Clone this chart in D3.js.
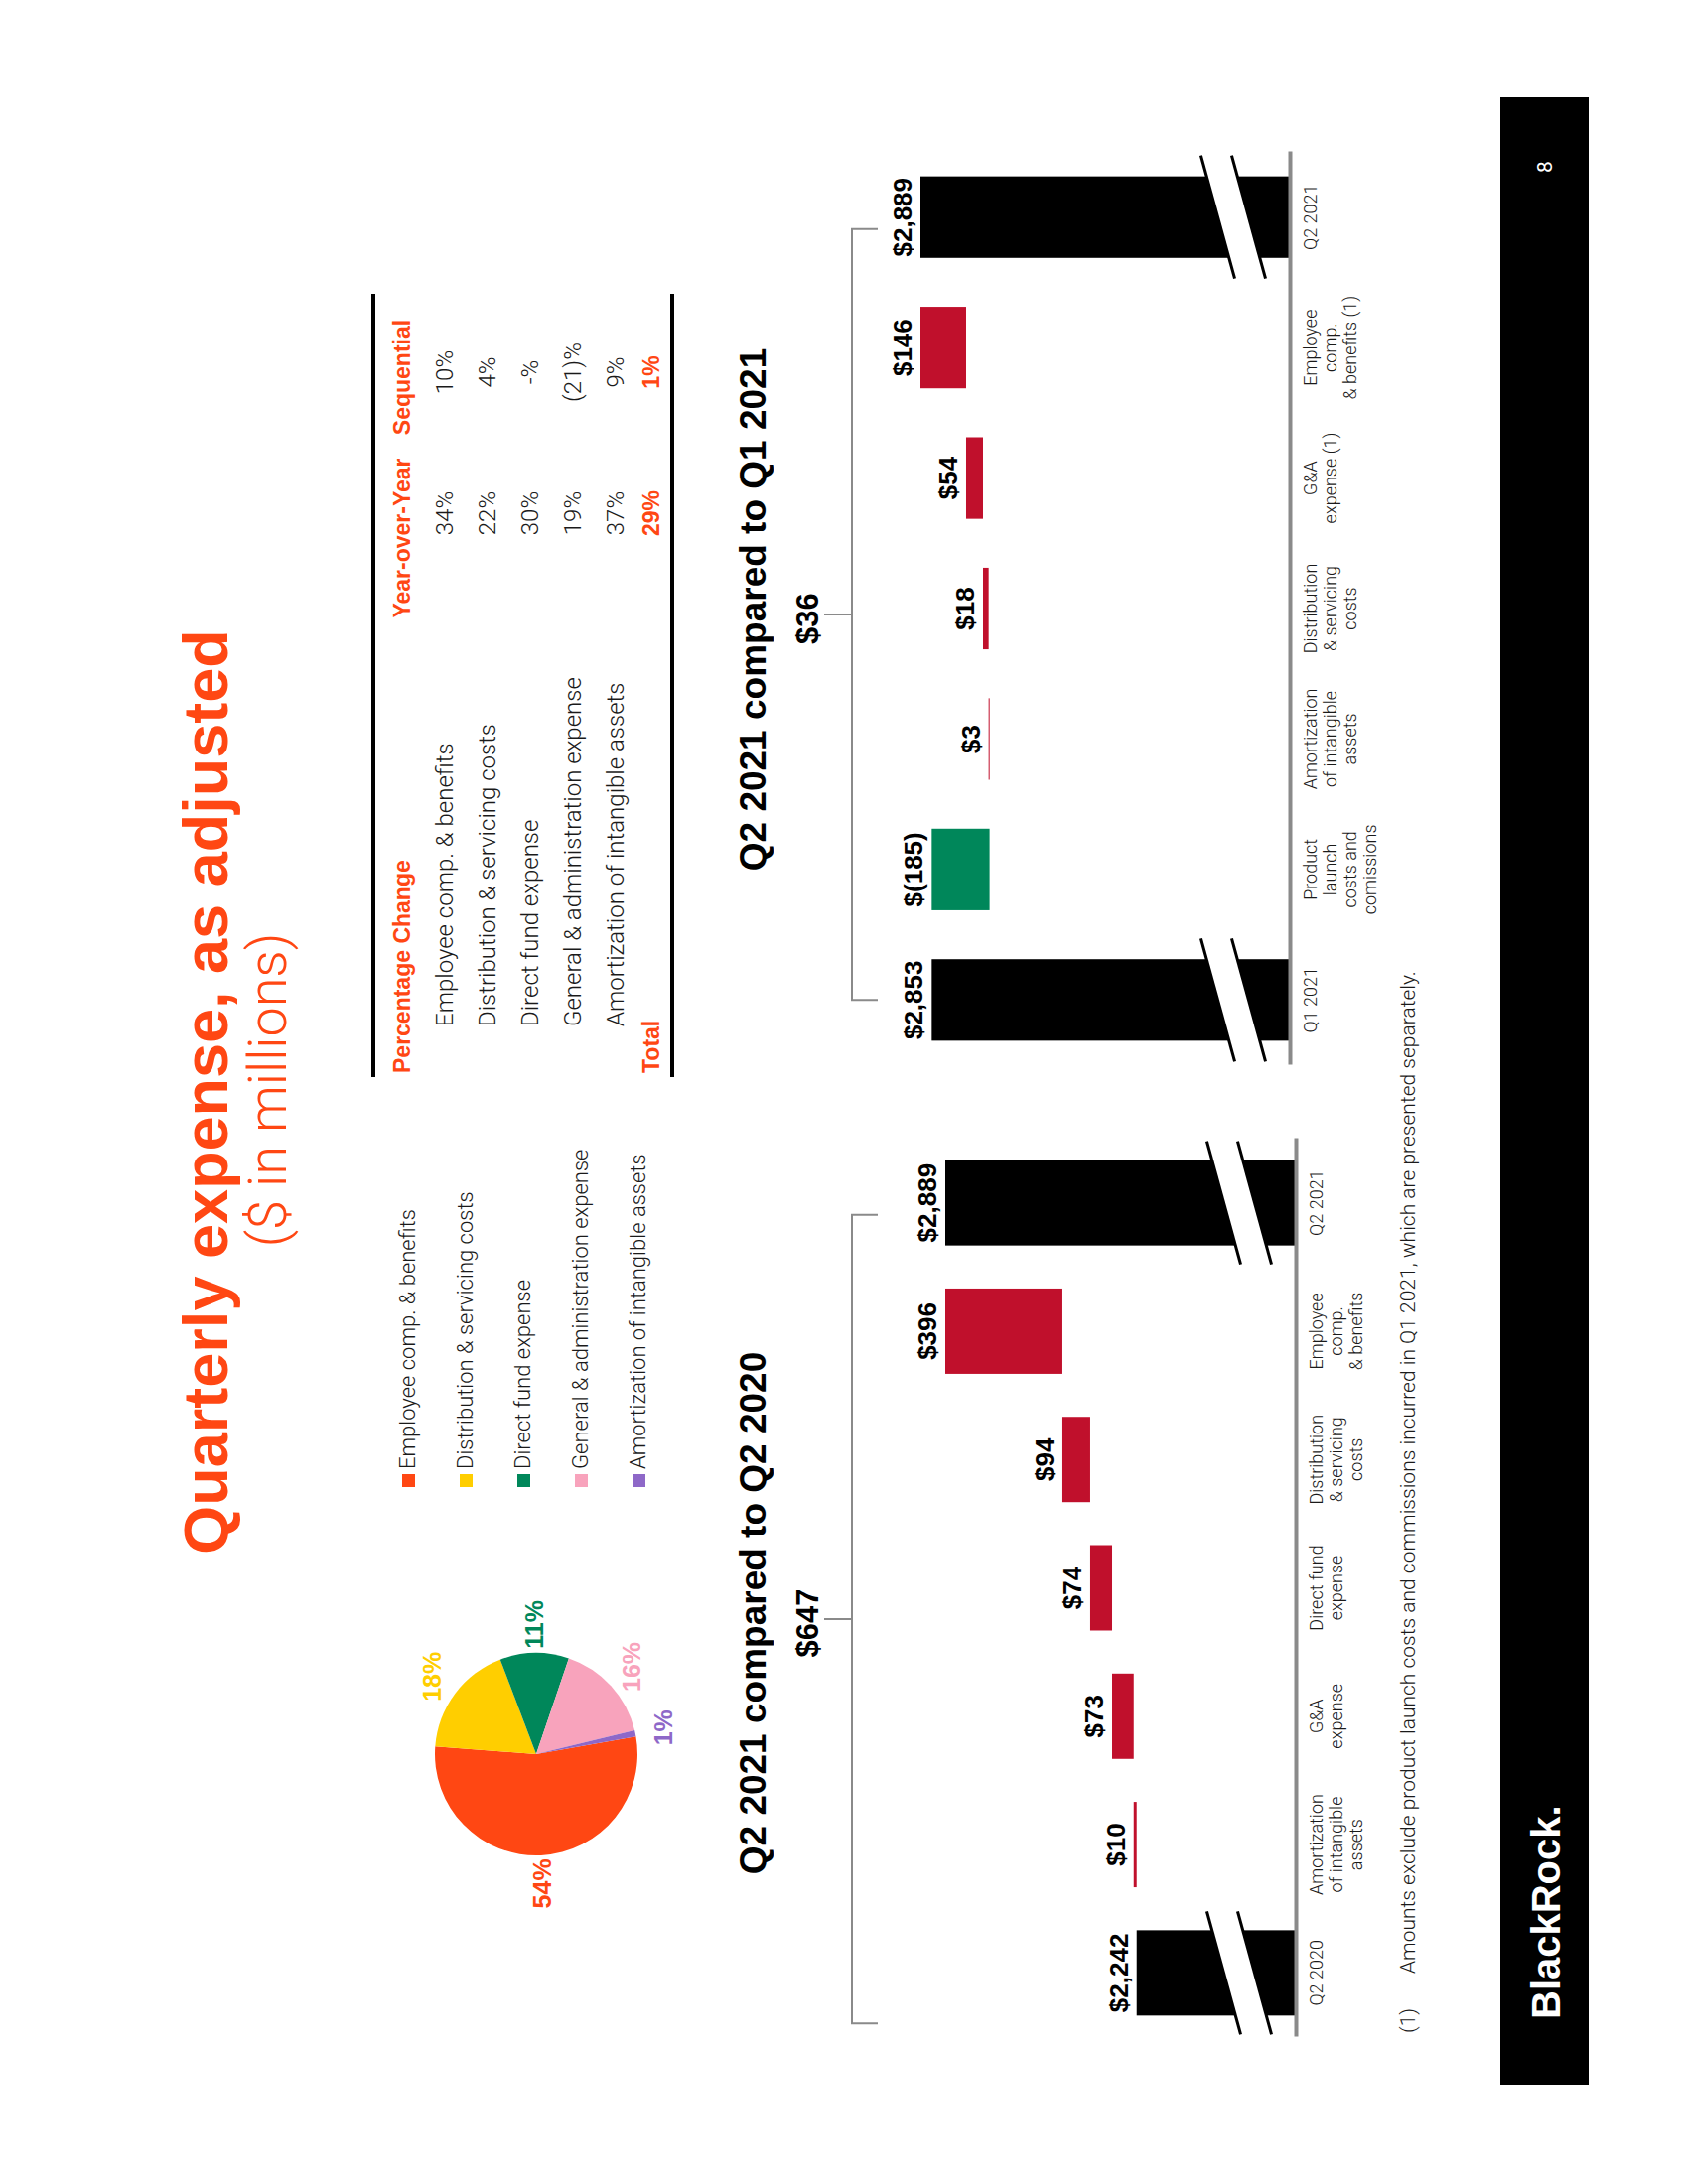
<!DOCTYPE html>
<html><head><meta charset="utf-8">
<script src="https://cdn.jsdelivr.net/npm/d3@7"></script>
<style>html,body{margin:0;padding:0;background:#fff;} svg{display:block;}</style>
</head><body>
<svg id="page" width="1700" height="2200"></svg>
<script>
// ---------------- DATA ----------------
const pageTitle = "Quarterly expense, as adjusted";
const pageSubtitle = "($ in millions)";

const pieCategories = ["Employee comp. & benefits","Distribution & servicing costs","Direct fund expense","General & administration expense","Amortization of intangible assets"];
const pieShares = [54, 18, 11, 16, 1];
const pieColors = ["#FF4713","#FFCE00","#00875A","#F8A3BC","#8E68C8"];

const tableHeaders = ["Percentage Change","Year-over-Year","Sequential"];
const tableRows = ["Employee comp. & benefits","Distribution & servicing costs","Direct fund expense","General & administration expense","Amortization of intangible assets"];
const tableYoY = ["34%","22%","30%","19%","37%"];
const tableSeq = ["10%","4%","-%","(21)%","9%"];
const tableTotal = ["Total","29%","1%"];

const leftTitle = "Q2 2021 compared to Q2 2020";
const leftChange = "$647";
const leftCategories = ["Q2 2020","Amortization\nof intangible\nassets","G&A\nexpense","Direct fund\nexpense","Distribution\n& servicing\ncosts","Employee\ncomp.\n& benefits","Q2 2021"];
const leftValues = [2242, 10, 73, 74, 94, 396, 2889];
const leftKinds = ["total","delta","delta","delta","delta","delta","total"];

const rightTitle = "Q2 2021 compared to Q1 2021";
const rightChange = "$36";
const rightCategories = ["Q1 2021","Product\nlaunch\ncosts and\ncomissions","Amortization\nof intangible\nassets","Distribution\n& servicing\ncosts","G&A\nexpense (1)","Employee\ncomp.\n& benefits (1)","Q2 2021"];
const rightValues = [2853, -185, 3, 18, 54, 146, 2889];
const rightKinds = ["total","delta","delta","delta","delta","delta","total"];

const footnoteMark = "(1)";
const footnoteText = "Amounts exclude product launch costs and commissions incurred in Q1 2021, which are presented separately.";
const brandText = "BlackRock.";
const pageNumber = "8";

// ---------------- STYLE ----------------
const ORANGE = "#FF4713", RED = "#C0102C", GREEN = "#00875A", GRAY = "#8a8a8a";
const SANS = "'Liberation Sans', Arial, sans-serif";
const LIGHT = "Roboto, 'Liberation Sans', sans-serif";

const svg = d3.select("#page");
svg.append("rect").attr("width",1700).attr("height",2200).attr("fill","#fff");
// slide is landscape 2200x1700, rotated -90deg onto the portrait page
const g = svg.append("g").attr("transform","translate(0,2200) rotate(-90)");

// ---------------- TITLE ----------------
g.append("text").attr("x",1100).attr("y",229).attr("text-anchor","middle")
  .attr("font-family",SANS).attr("font-weight",700).attr("font-size",63).attr("fill",ORANGE).text(pageTitle);
g.append("text").attr("x",1102).attr("y",288).attr("text-anchor","middle")
  .attr("font-family",LIGHT).attr("font-weight",300).attr("font-size",54).attr("fill",ORANGE).text(pageSubtitle);

// ---------------- PIE ----------------
const pieR = 102;
const pieG = g.append("g").attr("transform","translate(433,540)");
const pieGen = d3.pie().sort(null).startAngle(170*Math.PI/180).endAngle(170*Math.PI/180 + 2*Math.PI);
const arcs = pieGen(pieShares);
const arcGen = d3.arc().innerRadius(0).outerRadius(pieR);
const labelArc = d3.arc().innerRadius(pieR*1.28).outerRadius(pieR*1.28);
pieG.selectAll("path.slice").data(arcs).join("path").attr("class","slice")
  .attr("d",arcGen).attr("fill",(d,i)=>pieColors[i]);
pieG.selectAll("text.pl").data(arcs).join("text").attr("class","pl")
  .attr("transform",d=>`translate(${labelArc.centroid(d)})`)
  .attr("text-anchor","middle").attr("dy","0.36em")
  .attr("font-family",SANS).attr("font-weight",700).attr("font-size",25)
  .attr("fill",(d,i)=>pieColors[i]).text(d=>d.data+"%");

// ---------------- LEGEND ----------------
const legY = d3.scalePoint().domain(pieCategories).range([418, 650]);
const leg = g.append("g");
pieCategories.forEach((c,i)=>{
  leg.append("rect").attr("x",702).attr("y",legY(c)-13).attr("width",13).attr("height",13).attr("fill",pieColors[i]);
  leg.append("text").attr("x",720).attr("y",legY(c)).attr("font-family",LIGHT).attr("font-weight",300)
    .attr("font-size",22).attr("fill","#1a1a1a").text(c);
});

// ---------------- TABLE ----------------
const tbl = g.append("g");
tbl.append("line").attr("x1",1115).attr("x2",1904).attr("y1",376).attr("y2",376).attr("stroke","#000").attr("stroke-width",4);
tbl.append("line").attr("x1",1115).attr("x2",1904).attr("y1",677).attr("y2",677).attr("stroke","#000").attr("stroke-width",4);
const rowY = d3.scalePoint().domain(tableRows).range([456, 628]);
const colYoY = 1683, colSeq = 1825;
tbl.append("text").attr("x",1119).attr("y",413).attr("font-family",SANS).attr("font-weight",700).attr("font-size",23).attr("fill",ORANGE).text(tableHeaders[0]);
tbl.append("text").attr("x",1658).attr("y",413).attr("text-anchor","middle").attr("font-family",SANS).attr("font-weight",700).attr("font-size",23).attr("fill",ORANGE).text(tableHeaders[1]);
tbl.append("text").attr("x",1820).attr("y",413).attr("text-anchor","middle").attr("font-family",SANS).attr("font-weight",700).attr("font-size",23).attr("fill",ORANGE).text(tableHeaders[2]);
tableRows.forEach((r,i)=>{
  const y = rowY(r);
  tbl.append("text").attr("x",1166).attr("y",y).attr("font-family",LIGHT).attr("font-weight",300).attr("font-size",24).attr("fill","#1a1a1a").text(r);
  tbl.append("text").attr("x",colYoY).attr("y",y).attr("text-anchor","middle").attr("font-family",LIGHT).attr("font-weight",300).attr("font-size",24).attr("fill","#1a1a1a").text(tableYoY[i]);
  tbl.append("text").attr("x",colSeq).attr("y",y).attr("text-anchor","middle").attr("font-family",LIGHT).attr("font-weight",300).attr("font-size",24).attr("fill","#1a1a1a").text(tableSeq[i]);
});
tbl.append("text").attr("x",1119).attr("y",664).attr("font-family",SANS).attr("font-weight",700).attr("font-size",23).attr("fill",ORANGE).text(tableTotal[0]);
tbl.append("text").attr("x",colYoY).attr("y",664).attr("text-anchor","middle").attr("font-family",SANS).attr("font-weight",700).attr("font-size",23).attr("fill",ORANGE).text(tableTotal[1]);
tbl.append("text").attr("x",colSeq).attr("y",664).attr("text-anchor","middle").attr("font-family",SANS).attr("font-weight",700).attr("font-size",23).attr("fill",ORANGE).text(tableTotal[2]);

// ---------------- WATERFALLS ----------------
const fmtMoney = v => v < 0 ? "$(" + d3.format(",")(-v) + ")" : d3.format("$,")(v);

function waterfall(cfg){
  const wg = g.append("g");
  const x = d3.scaleBand().domain(cfg.cats).range(cfg.xRange).paddingInner(cfg.pad).paddingOuter(cfg.pad/2);
  const y = d3.scaleLinear().domain(cfg.yDomain).range(cfg.yRange);
  const axisV = cfg.yRange[0];
  let run = 0;
  const bars = cfg.cats.map((c,i)=>{
    const v = cfg.vals[i];
    let a, b, kind = cfg.kinds[i];
    if (kind === "total"){ a = cfg.yDomain[0]; b = v; run = v; }
    else { a = run; b = run + v; run = b; }
    return {c, v, kind, lo: Math.min(a,b), hi: Math.max(a,b)};
  });
  const bw = x.bandwidth();
  wg.selectAll("rect.bar").data(bars).join("rect").attr("class","bar")
    .attr("x",d=>x(d.c)).attr("width",bw)
    .attr("y",d=>y(d.hi)).attr("height",d=>Math.max(1, y(d.lo)-y(d.hi)))
    .attr("fill",d=>d.kind==="total" ? "#000" : (d.v < 0 ? GREEN : RED));
  // axis break marks on the total bars
  const s = 0.275, L = 62, gap = 31, off = 57;
  bars.filter(d=>d.kind==="total").forEach(d=>{
    const cu = x(d.c) + bw/2, vc = axisV - off;
    const v1 = vc - gap/2, v2 = vc + gap/2, h = bw/2 + 1;
    wg.append("path").attr("fill","#fff")
      .attr("d",`M${cu-h},${v1+s*h}L${cu+h},${v1-s*h}L${cu+h},${v2-s*h}L${cu-h},${v2+s*h}Z`);
    [v1, v2].forEach(vv=>{
      wg.append("line").attr("x1",cu-L).attr("y1",vv+s*L).attr("x2",cu+L).attr("y2",vv-s*L)
        .attr("stroke","#000").attr("stroke-width",3);
    });
  });
  // value labels
  wg.selectAll("text.val").data(bars).join("text").attr("class","val")
    .attr("x",d=>x(d.c)+bw/2).attr("y",d=>y(d.hi)-9).attr("text-anchor","middle")
    .attr("font-family",SANS).attr("font-weight",700).attr("font-size",26).attr("fill","#000")
    .text(d=>fmtMoney(d.v));
  // category axis
  const ax = wg.append("g").attr("transform",`translate(0,${axisV})`)
    .call(d3.axisBottom(x).tickSize(0).tickSizeOuter(0));
  ax.select(".domain").attr("stroke",GRAY).attr("stroke-width",4);
  ax.selectAll(".tick text").each(function(d){
    const t = d3.select(this);
    t.text(null).attr("dy",null).attr("y",null)
      .attr("font-family",LIGHT).attr("font-weight",300).attr("font-size",18).attr("fill","#1a1a1a");
    d.split("\n").forEach((line,i)=>{
      t.append("tspan").attr("x",0).attr("y",27 + i*20).text(line);
    });
  });
  // bracket
  const b0 = x(cfg.cats[0]) + cfg.bracketStart, b1 = x(cfg.cats[cfg.cats.length-1]) + bw/2 - 12;
  const bm = (b0+b1)/2;
  wg.append("path").attr("fill","none").attr("stroke",GRAY).attr("stroke-width",2)
    .attr("d",`M${b0},884V858H${b1}V884M${bm},858V830`);
  // titles
  wg.append("text").attr("x",cfg.titleX).attr("y",771).attr("text-anchor","middle")
    .attr("font-family",SANS).attr("font-weight",700).attr("font-size",37).attr("fill","#000").text(cfg.title);
  wg.append("text").attr("x",bm - 4).attr("y",824).attr("text-anchor","middle")
    .attr("font-family",SANS).attr("font-weight",700).attr("font-size",31).attr("fill","#000").text(cfg.change);
}

waterfall({cats:leftCategories, vals:leftValues, kinds:leftKinds, xRange:[148,1053], pad:0.335,
  yDomain:[1704, 2889], yRange:[1305, 952], bracketStart:-8, title:leftTitle, change:leftChange, titleX:575});
waterfall({cats:rightCategories, vals:rightValues, kinds:rightKinds, xRange:[1127,2047], pad:0.375,
  yDomain:[1708, 2889], yRange:[1299, 927], bracketStart:41, title:rightTitle, change:rightChange, titleX:1586});

// ---------------- FOOTNOTE ----------------
g.append("text").attr("x",152).attr("y",1425).attr("font-family",LIGHT).attr("font-weight",300).attr("font-size",21).attr("fill","#1a1a1a").text(footnoteMark);
g.append("text").attr("x",212).attr("y",1425).attr("font-family",LIGHT).attr("font-weight",300).attr("font-size",21).attr("fill","#1a1a1a").text(footnoteText);

// ---------------- FOOTER ----------------
g.append("rect").attr("x",100).attr("y",1511).attr("width",2002).attr("height",89).attr("fill","#000");
g.append("text").attr("x",166).attr("y",1571).attr("font-family",SANS).attr("font-weight",700).attr("font-size",40).attr("fill","#fff").text(brandText);
g.append("text").attr("x",2032).attr("y",1563).attr("text-anchor","middle").attr("font-family",LIGHT).attr("font-size",21).attr("fill","#fff").text(pageNumber);
</script>
</body></html>
